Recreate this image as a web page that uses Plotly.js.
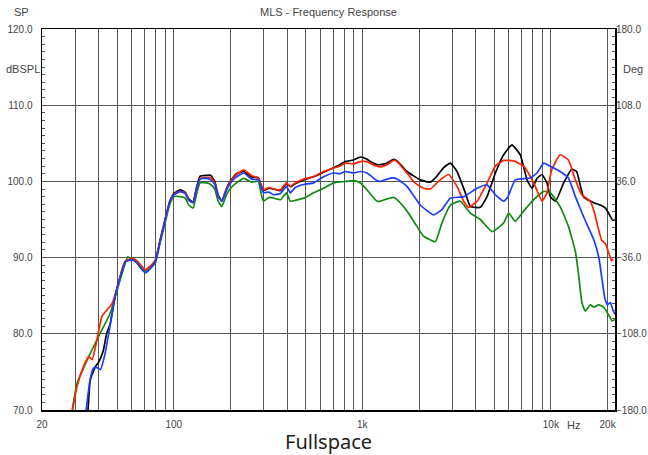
<!DOCTYPE html>
<html>
<head>
<meta charset="utf-8">
<script src="https://cdn.plot.ly/plotly-3.0.1.min.js"></script>
<style>html,body{margin:0;padding:0;background:#fff;}#chart{width:648px;height:455px;}</style>
</head>
<body>
<div id="chart"></div>
<script>
// ---- Data (frequency in Hz, level in dB SPL) ----
const blackFreq = [35.0,36.1,38.4,40.0,42.2,44.1,46.0,48.8,52.0,55.5,60,63.7,67,70.7,75.4,79.9,84.7,90,95,100,108,115,120,126.6,132,138,150,157,165,172,180,190,200,215,235,259,281,290,299,320,338,368,396,415,441,489,552,623,705,760,812,900,976,1059,1120,1196,1246,1353,1466,1528,1727,2030,2295,2490,2700,2930,3180,3520,3740,4230,4590,5080,5620,6220,6880,7480,7950,8450,8980,9540,9940,10600,11700,12900,13700,14900,16900,18300,19500,20700,21300,21900];
const blackDb = [69.5,74.0,75.7,76.3,77.7,80.1,81.3,84.9,87.5,89.5,89.8,89.4,88.6,88.1,88.7,89.6,92.3,95.0,97.3,98.4,98.9,98.6,97.7,97.3,99.2,100.7,100.8,100.8,100.0,98.2,97.4,99.0,100.1,101.0,101.3,100.6,100.5,99.6,98.8,99.1,99.0,98.8,99.7,99.3,99.7,100.2,100.6,101.2,101.8,102.2,102.6,102.8,103.2,102.9,102.5,102.2,102.2,102.4,102.9,102.7,101.3,100.2,99.9,100.7,101.8,102.4,101.3,98.5,96.7,96.6,98.0,101.1,103.5,104.8,103.5,100.2,99.1,100.4,100.9,99.8,98.0,97.4,99.8,101.6,101.3,98.0,97.2,96.9,96.5,95.4,94.9,95.0];

const redFreq = [28.8,30.7,33.2,35.4,36.9,39.1,41.6,44.1,47.1,50.4,53.3,55.5,60.0,63.7,67,70.7,76.6,79.9,84.7,90,95,100,108,115,120,126.6,132,138,150,157,165,172,180,190,200,215,235,259,281,290,299,320,338,368,396,415,441,489,552,623,705,760,812,900,976,1059,1120,1196,1246,1353,1466,1528,1727,1900,2115,2295,2590,2870,3180,3450,3665,4065,4590,5080,5620,6340,7180,8120,8980,9540,10100,11200,12400,13500,14600,16200,17000,17800,18600,19500,20300,21000,21400];
const redDb = [69.5,73.1,75.7,77.0,76.6,79.2,82.3,83.1,84.0,86.2,88.6,89.6,89.9,89.6,89.0,88.4,89.1,89.7,92.3,95.0,97.3,98.3,98.7,98.5,97.6,97.2,99.0,100.4,100.5,100.5,99.8,98.0,97.4,99.0,100.0,100.9,101.5,100.75,100.4,99.6,98.9,99.2,99.0,98.9,99.8,99.35,99.8,100.3,100.65,101.3,101.75,102.0,102.4,102.3,102.6,102.6,102.3,102.0,101.9,102.2,102.75,102.6,101.1,99.8,99.1,99.0,100.2,100.9,99.35,97.4,96.6,97.4,99.8,102.0,102.75,102.7,102.0,99.8,97.4,98.5,101.5,103.5,102.8,100.2,98.25,97.4,96.0,94.0,92.3,91.8,90.6,89.6,89.8];

const blueFreq = [34.1,36.0,37.5,39,40.8,43.3,46.0,48.8,52.0,55.5,60,63.7,67,70.7,75.4,79.9,84.7,90,95,100,108,115,120,126.6,132,138,150,157,165,172,180,190,200,215,235,259,281,290,299,320,338,368,396,415,441,489,552,623,705,760,812,900,976,1059,1196,1246,1353,1466,1528,1727,2030,2390,2645,2930,3450,4065,4590,5080,5620,5900,6480,7780,8450,9160,9940,11200,12400,13500,14900,16900,18000,18700,19400,20000,20700,21500,22100];
const blueDb = [69.5,74.0,75.5,75.6,75.3,77.5,81.2,84.9,87.5,89.5,89.7,89.3,88.6,88.0,88.6,89.5,92.2,94.9,97.2,98.2,98.7,98.4,97.5,97.2,99.0,100.3,100.4,100.2,99.6,98.0,97.4,98.8,99.8,100.6,101.1,100.3,100.2,99.3,98.5,98.6,98.25,98.4,99.35,98.5,99.2,99.6,99.8,100.6,101.1,101.0,101.3,101.1,101.3,101.1,100.1,100.0,100.3,100.45,100.3,99.35,96.9,95.6,96.3,97.8,98.0,99.1,99.55,98.25,97.4,97.9,100.2,100.45,101.1,102.4,102.0,101.3,100.45,98.0,95.4,92.35,89.95,87.1,84.5,83.8,84.1,82.9,82.5];

const greenFreq = [28.7,30.7,34.8,40.0,46.0,52,57.0,60,63.7,67,70.7,76.6,79.9,84.7,90,95,100,108,115,120,126.6,132,138,150,157,165,172,180,190,200,215,235,259,281,290,299,320,338,368,396,415,441,489,552,623,705,812,900,976,1059,1196,1246,1353,1466,1528,1727,1950,2115,2440,2645,2930,3310,3740,4230,4880,5620,5980,6480,7180,8120,9160,9940,11200,12400,13500,14000,14640,15230,16200,16960,17950,19060,20250,21120,22050];
const greenDb = [69.5,73.5,76.6,79.7,82.7,87.1,90.1,89.8,89.5,88.8,88.2,88.8,89.3,92.0,94.6,96.9,98.0,98.0,97.8,96.9,96.5,98.3,99.8,99.8,99.6,99.0,97.4,96.7,98.2,99.1,99.8,100.4,99.9,100.0,98.5,97.4,97.9,97.8,97.6,98.5,97.4,97.5,97.8,98.5,99.1,99.8,100.0,100.1,99.8,98.9,97.4,97.4,97.7,97.9,97.6,96.1,94.1,92.8,92.1,94.55,96.9,97.4,95.85,95.0,93.4,94.55,95.85,94.75,96.1,97.6,98.7,98.5,96.7,94.1,90.8,88.0,84.0,83.0,83.8,83.5,83.8,83.5,82.5,81.7,81.9];

const xTickVals = [20,30,40,50,60,70,80,90,100,200,300,400,500,600,700,800,900,1000,2000,3000,4000,5000,6000,7000,8000,9000,10000,20000];
const xTickText = ['20','','','','','','','','100','','','','','','','','','1k','','','','','','','','','10k','20k'];

const series = [
  {name:'black', f:blackFreq, v:blackDb, color:'#000000'},
  {name:'green', f:greenFreq, v:greenDb, color:'#118a11'},
  {name:'red',   f:redFreq,   v:redDb,   color:'#ff2200'},
  {name:'blue',  f:blueFreq,  v:blueDb,  color:'#1a3cff'}
];

const traces = series.map(s => ({
  x: s.f, y: s.v, type:'scatter', mode:'lines', name:s.name,
  line:{color:s.color, width:1.7, shape:'spline', smoothing:0.4},
  hoverinfo:'skip', showlegend:false
}));
// phase axis carrier (no visible mark)
traces.push({x:[20], y:[0], yaxis:'y2', type:'scatter', mode:'lines', line:{width:0}, showlegend:false, hoverinfo:'skip'});

const FONT = 'Liberation Sans, Arial, sans-serif';
const tickFont = {family:FONT, size:10, color:'#444'};

const layout = {
  width:648, height:455,
  margin:{l:42, r:33, t:29, b:45},
  paper_bgcolor:'#fff', plot_bgcolor:'#fff',
  showlegend:false,
  xaxis:{
    type:'log', range:[Math.log10(20), Math.log10(21900)],
    tickmode:'array', tickvals:xTickVals, ticktext:xTickText,
    showgrid:true, gridcolor:'#555', gridwidth:1,
    showline:true, linecolor:'#000', linewidth:1.5, mirror:true,
    ticks:'', ticklabelstandoff:4, tickfont:tickFont, zeroline:false, fixedrange:true
  },
  yaxis:{
    range:[70,120], tickmode:'linear', tick0:70, dtick:10, tickformat:'.1f',
    showgrid:true, gridcolor:'#555', gridwidth:1,
    showline:true, linecolor:'#000', linewidth:1.5, mirror:true,
    ticks:'inside', ticklen:3, tickcolor:'#555', ticklabelstandoff:6,
    minor:{dtick:1, ticks:'inside', ticklen:3, tickcolor:'#555', showgrid:false},
    tickfont:tickFont, zeroline:false, fixedrange:true
  },
  yaxis2:{
    overlaying:'y', side:'right', range:[-180,180], tickmode:'linear', tick0:-180, dtick:72, tickformat:'.1f',
    showgrid:false, showline:false, zeroline:false,
    ticks:'inside', ticklen:3, tickcolor:'#555', ticklabelstandoff:0,
    minor:{tick0:-180, dtick:7.2, ticks:'inside', ticklen:3, tickcolor:'#555', showgrid:false},
    tickfont:tickFont, fixedrange:true
  },
  annotations:[
    {text:'SP', xref:'paper', yref:'paper', x:-0.052, y:1.0, yshift:9, xanchor:'left', yanchor:'bottom', showarrow:false, font:{family:FONT, size:11, color:'#444'}},
    {text:'MLS - Frequency Response', xref:'paper', yref:'paper', x:0.5, y:1.0, yshift:9, xanchor:'center', yanchor:'bottom', showarrow:false, font:{family:FONT, size:11, color:'#444'}},
    {text:'dBSPL', xref:'paper', yref:'paper', x:0, xshift:-38, y:1.0, yshift:-40, xanchor:'left', yanchor:'middle', showarrow:false, font:{family:FONT, size:11, color:'#444'}},
    {text:'Deg', xref:'paper', yref:'paper', x:1, xshift:6, y:1.0, yshift:-40, xanchor:'left', yanchor:'middle', showarrow:false, font:{family:FONT, size:11, color:'#444'}},
    {text:'Hz', xref:'paper', yref:'paper', x:0.928, y:0, yshift:-15, xanchor:'center', yanchor:'middle', showarrow:false, font:{family:FONT, size:11, color:'#444'}},
    {text:'Fullspace', xref:'paper', yref:'paper', x:0.5, y:0, yshift:-31, xanchor:'center', yanchor:'middle', showarrow:false, font:{family:'Noto Sans, Liberation Sans, sans-serif', size:20, color:'#222'}}
  ]
};

Plotly.newPlot('chart', traces, layout, {displayModeBar:false, staticPlot:true});
</script>
</body>
</html>
